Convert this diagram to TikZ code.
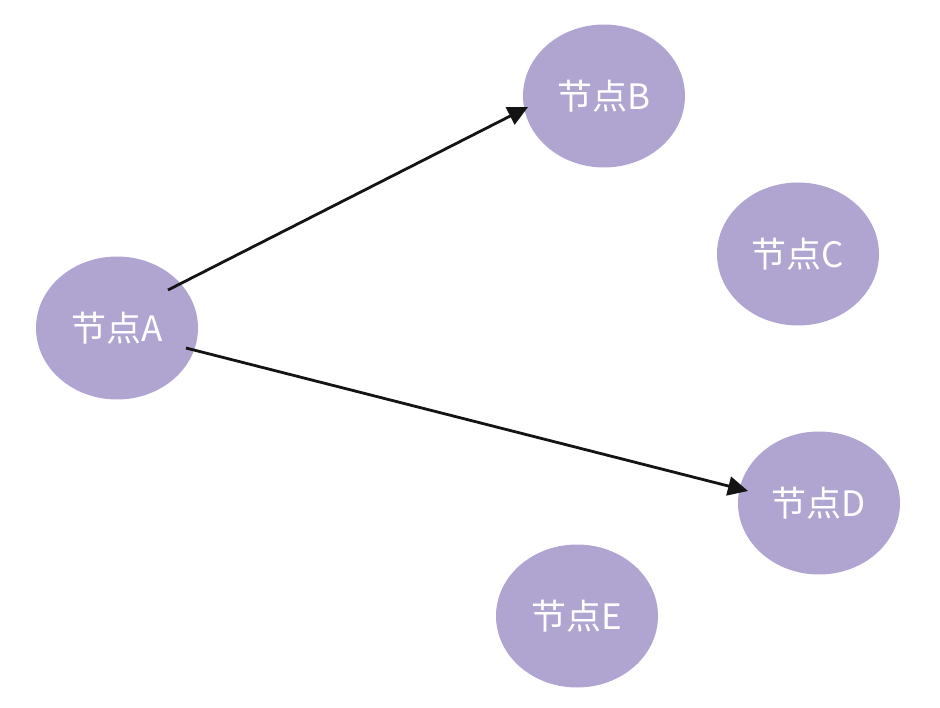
\documentclass[tikz,border=0pt]{standalone}
\usepackage{fontspec}
\newfontfamily\cjk{Noto Sans CJK SC}
\usetikzlibrary{arrows.meta,shapes.geometric}
\definecolor{nodefill}{RGB}{176,164,208}
\definecolor{arrowcol}{RGB}{20,20,20}
\tikzset{
  graphnode/.style={ellipse, fill=nodefill, draw=none, minimum width=162pt, minimum height=143pt, inner sep=0pt, text=white, font=\cjk\fontsize{35}{35}\selectfont},
  conn/.style={draw=arrowcol, line width=2.8pt, -{Triangle[length=20pt,width=19pt]}}
}
\begin{document}
\begin{tikzpicture}[x=1pt,y=-1pt]
\useasboundingbox (0,0) rectangle (940,708);
\node[graphnode] (A) at (117,328) {节点A};
\node[graphnode] (B) at (604,96) {节点B};
\node[graphnode] (C) at (798,254) {节点C};
\node[graphnode] (D) at (819,503) {节点D};
\node[graphnode] (E) at (577,616) {节点E};
\coordinate (a1) at ([xshift=51pt,yshift=38pt]A.center);
\coordinate (a2) at ([xshift=69pt,yshift=-20pt]A.center);
\coordinate (b1) at ([xshift=-76pt,yshift=-11pt]B.center);
\coordinate (d1) at ([xshift=-71pt,yshift=12pt]D.center);
\draw[conn] (a1) -- (b1);
\draw[conn] (a2) -- (d1);
\end{tikzpicture}
\end{document}
